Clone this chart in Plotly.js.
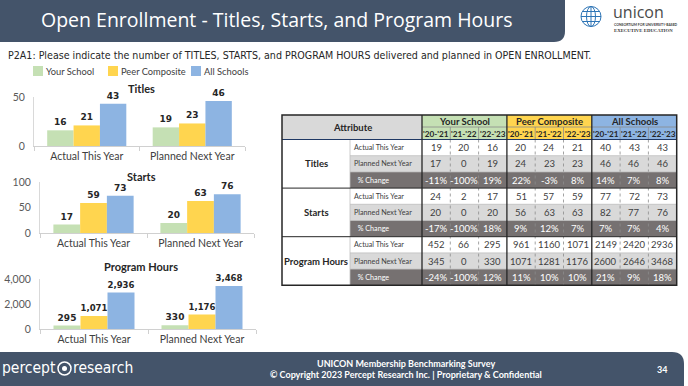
<!DOCTYPE html>
<html><head><meta charset="utf-8">
<script src="https://cdn.plot.ly/plotly-3.0.1.min.js"></script>
<style>html,body{margin:0;padding:0;background:#fff;}#chart{width:688px;height:386px;}</style>
</head><body><div id="chart"></div>
<script>
// ---------- data ----------
const seriesNames = ['Your School', 'Peer Composite', 'All Schools'];
const periods = ['Actual This Year', 'Planned Next Year'];
const years = ["'20-'21", "'21-'22", "'22-'23"];
const metrics = ['Titles', 'Starts', 'Program Hours'];
const rowLabels = ['Actual This Year', 'Planned Next Year', '% Change'];

const titlesActual  = [19, 20, 16, 20, 24, 21, 40, 43, 43];
const titlesPlanned = [17, 0, 19, 24, 23, 23, 46, 46, 46];
const titlesChange  = ['-11%', '-100%', '19%', '22%', '-3%', '8%', '14%', '7%', '8%'];
const startsActual  = [24, 2, 17, 51, 57, 59, 77, 72, 73];
const startsPlanned = [20, 0, 20, 56, 63, 63, 82, 77, 76];
const startsChange  = ['-17%', '-100%', '18%', '9%', '12%', '7%', '7%', '7%', '4%'];
const hoursActual   = [452, 66, 295, 961, 1160, 1071, 2149, 2420, 2936];
const hoursPlanned  = [345, 0, 330, 1071, 1281, 1176, 2600, 2646, 3468];
const hoursChange   = ['-24%', '-100%', '12%', '11%', '10%', '10%', '21%', '9%', '18%'];

const titleText = 'Open Enrollment - Titles, Starts, and Program Hours';
const questionText = 'P2A1: Please indicate the number of TITLES, STARTS, and PROGRAM HOURS delivered and planned in OPEN ENROLLMENT.';
const footerLine1 = 'UNICON Membership Benchmarking Survey';
const footerLine2 = '© Copyright 2023 Percept Research Inc. | Proprietary &amp; Confidential';
const pageNumber = '34';

// ---------- styles / layout constants ----------
const W = 688, H = 386;
const seriesColors = ['#c5e0b4', '#ffd54f', '#8db4e2'];
const navy = '#44546a';
const FONT = 'Lato, "Open Sans", sans-serif';
const X = p => p / W;
const Y = p => 1 - p / H;

const shapes = [], annotations = [];
function rect(x0, y0, x1, y1, fill, line) {
  shapes.push({type: 'rect', xref: 'paper', yref: 'paper', x0: X(x0), x1: X(x1), y0: Y(y1), y1: Y(y0),
    fillcolor: fill, line: line || {width: 0}});
}
function seg(x0, y0, x1, y1, color, width, dash) {
  shapes.push({type: 'line', xref: 'paper', yref: 'paper', x0: X(x0), x1: X(x1), y0: Y(y0), y1: Y(y1),
    line: {color: color, width: width, dash: dash || 'solid'}});
}
function txt(text, x, y, o) {
  o = o || {};
  annotations.push({xref: 'paper', yref: 'paper', x: X(x), y: Y(y), text: text, showarrow: false,
    xanchor: o.anchor || 'center', yanchor: 'middle', borderpad: 0,
    font: {family: o.family || FONT, size: o.size || 10, color: o.color || '#404040', weight: o.bold ? 'bold' : 'normal'}});
}

// ---------- header ----------
shapes.push({type: 'path', xref: 'paper', yref: 'paper', fillcolor: navy, line: {width: 0},
  path: `M 0,${Y(0)} L ${X(565)},${Y(0)} L ${X(565)},${Y(31)} Q ${X(565)},${Y(42)} ${X(554)},${Y(42)} L 0,${Y(42)} Z`});
txt(titleText, 277, 20, {size: 19.5, color: '#ffffff', family: '"Open Sans", Lato, sans-serif'});

// unicon logo
const gc = {x: 591, y: 16.5, r: 10};
shapes.push({type: 'circle', xref: 'paper', yref: 'paper', x0: X(gc.x - gc.r), x1: X(gc.x + gc.r), y0: Y(gc.y + gc.r), y1: Y(gc.y - gc.r), line: {color: '#2e75b6', width: 1}});
shapes.push({type: 'circle', xref: 'paper', yref: 'paper', x0: X(gc.x - 4.5), x1: X(gc.x + 4.5), y0: Y(gc.y + gc.r), y1: Y(gc.y - gc.r), line: {color: '#2e75b6', width: 1}});
seg(gc.x, gc.y - gc.r, gc.x, gc.y + gc.r, '#2e75b6', 1);
seg(gc.x - gc.r, gc.y, gc.x + gc.r, gc.y, '#2e75b6', 1);
seg(gc.x - 8.5, gc.y - 5, gc.x + 8.5, gc.y - 5, '#2e75b6', 1);
seg(gc.x - 8.5, gc.y + 5, gc.x + 8.5, gc.y + 5, '#2e75b6', 1);
txt('unicon', 612, 12, {anchor: 'left', size: 16, color: '#4a4a4a', family: '"Open Sans", sans-serif'});
txt('CONSORTIUM FOR UNIVERSITY-BASED', 613, 25, {anchor: 'left', size: 3.4, color: '#3a3a3a', bold: true});
txt('EXECUTIVE EDUCATION', 613, 31, {anchor: 'left', size: 4.8, color: '#3a3a3a', bold: true, family: '"Liberation Serif", serif'});

// question
txt(questionText, 7, 55, {anchor: 'left', size: 10.6, color: '#262626', family: '"Liberation Sans Narrow", "DejaVu Sans Condensed", "Liberation Sans", sans-serif'});

// legend
const legendSwatchX = [33, 108, 191];
seriesNames.forEach((n, i) => {
  rect(legendSwatchX[i], 66, legendSwatchX[i] + 10, 76, seriesColors[i]);
  txt(n, legendSwatchX[i] + 12, 71.5, {anchor: 'left', size: 9.3, color: '#404040'});
});

// ---------- bar charts ----------
const chartData = [
  {name: metrics[0], actual: titlesActual, planned: titlesPlanned, xdom: [34, 245], ydom: [146, 97], range: [0, 50], dtick: 50, titleY: 88},
  {name: metrics[1], actual: startsActual, planned: startsPlanned, xdom: [40, 254], ydom: [233.3, 182], range: [0, 100], dtick: 50, titleY: 176},
  {name: metrics[2], actual: hoursActual, planned: hoursPlanned, xdom: [40, 256], ydom: [329.3, 279.3], range: [0, 4000], dtick: 2000, titleY: 266}
];
const traces = [];
const layout = {
  width: W, height: H, margin: {l: 0, r: 0, t: 0, b: 0},
  paper_bgcolor: '#ffffff', plot_bgcolor: 'rgba(0,0,0,0)',
  showlegend: false, barmode: 'group', bargap: 0.25, bargroupgap: 0,
  font: {family: FONT}
};
chartData.forEach((c, k) => {
  const sfx = k === 0 ? '' : String(k + 1);
  seriesNames.forEach((n, g) => {
    traces.push({
      type: 'bar', name: n, x: periods,
      y: [c.actual[g * 3 + 2], c.planned[g * 3 + 2]],
      xaxis: 'x' + sfx, yaxis: 'y' + sfx,
      marker: {color: seriesColors[g], line: {width: 0}},
      texttemplate: '%{y:,}', textposition: 'outside', cliponaxis: false,
      textfont: {family: '"DejaVu Sans", Verdana, sans-serif', size: 9, color: '#262626', weight: 'bold'},
      showlegend: false, hoverinfo: 'skip'
    });
  });
  layout['xaxis' + sfx] = {
    domain: [X(c.xdom[0]), X(c.xdom[1])], anchor: 'y' + sfx, type: 'category',
    showline: true, linecolor: '#d0d0d0', linewidth: 1, ticks: 'outside', tickson: 'boundaries',
    ticklen: 4, tickcolor: '#d0d0d0', showgrid: false, zeroline: false,
    tickfont: {family: FONT, size: 10.5, color: '#404040'}, fixedrange: true
  };
  layout['yaxis' + sfx] = {
    domain: [Y(c.ydom[0]), Y(c.ydom[1])], anchor: 'x' + sfx, range: c.range, dtick: c.dtick,
    tickformat: ',d', showline: true, linecolor: '#d9d9d9', linewidth: 1, ticks: '', showgrid: false,
    zeroline: false, ticklabelstandoff: 6, tickfont: {family: FONT, size: 10.5, color: '#595959'}, fixedrange: true
  };
  txt(c.name, 141, c.titleY, {size: 11, bold: true, color: '#262626'});
});

// ---------- table ----------
const TX0 = 282, LBLX = 350, TX1 = 422, CW = 28.3, TY0 = 115, TYM = 127, TY1 = 139.5, RH = 16.2;
const TXE = TX1 + 9 * CW;
const TYE = TY1 + 9 * RH;
const tableRows = [
  [titlesActual, titlesPlanned, titlesChange],
  [startsActual, startsPlanned, startsChange],
  [hoursActual, hoursPlanned, hoursChange]
];
const rowFills = ['#ffffff', '#d9d9d9', '#767171'];
const rowText = ['#404040', '#404040', '#ffffff'];

// header fills
rect(TX0, TY0, TX1, TY1, '#d9d9d9');
seriesNames.forEach((n, g) => {
  rect(TX1 + g * 3 * CW, TY0, TX1 + (g + 1) * 3 * CW, TY1, seriesColors[g]);
});
// body fills
metrics.forEach((m, mi) => {
  rect(TX0, TY1 + mi * 3 * RH, LBLX, TY1 + (mi + 1) * 3 * RH, '#ffffff');
  rowLabels.forEach((r, ri) => {
    const y0 = TY1 + (mi * 3 + ri) * RH;
    rect(LBLX, y0, TXE, y0 + RH, rowFills[ri]);
  });
});
// inner lines
for (let i = 1; i < 9; i++) {
  if (i % 3 === 0) continue;
  seg(TX1 + i * CW, TYM, TX1 + i * CW, TY1, '#8c8c8c', 0.8);
  seg(TX1 + i * CW, TY1, TX1 + i * CW, TYE, '#8c8c8c', 0.8, 'dot');
}
seg(TX1, TYM, TXE, TYM, '#8c8c8c', 0.8);
for (let r = 1; r < 9; r++) {
  if (r % 3 === 0) continue;
  seg(LBLX, TY1 + r * RH, TXE, TY1 + r * RH, '#bfbfbf', 0.8);
}
seg(LBLX, TY1, LBLX, TYE, '#bfbfbf', 0.8);
// heavy lines
seg(TX0, TY1, TXE, TY1, '#1f3864', 1.2);
for (let r = 3; r < 9; r += 3) seg(TX0, TY1 + r * RH, TXE, TY1 + r * RH, '#262626', 1);
for (let g = 0; g < 3; g++) seg(TX1 + g * 3 * CW, TY0, TX1 + g * 3 * CW, TYE, '#262626', 1.3);
rect(TX0, TY0, TXE, TYE, 'rgba(0,0,0,0)', {color: '#262626', width: 1.5});

// header text
txt('Attribute', (TX0 + TX1) / 2, (TY0 + TY1) / 2, {size: 9.5, bold: true, color: '#262626'});
seriesNames.forEach((n, g) => {
  txt(n, TX1 + (g * 3 + 1.5) * CW, (TY0 + TYM) / 2 + 0.5, {size: 9.5, bold: true, color: '#262626'});
  years.forEach((yr, j) => {
    txt(yr, TX1 + (g * 3 + j + 0.5) * CW, (TYM + TY1) / 2 + 0.5, {size: 8.2, bold: true, color: '#262626'});
  });
});
// body text
metrics.forEach((m, mi) => {
  txt(m, (TX0 + LBLX) / 2, TY1 + (mi * 3 + 1.5) * RH, {size: 9.5, bold: true, color: '#262626'});
  rowLabels.forEach((r, ri) => {
    const yc = TY1 + (mi * 3 + ri + 0.5) * RH;
    txt((ri === 2 ? '&nbsp;&nbsp;' : '') + r, 353, yc, {anchor: 'left', size: 7.2, color: rowText[ri]});
    tableRows[mi][ri].forEach((v, ci) => {
      txt(String(v), TX1 + (ci + 0.5) * CW, yc, {size: 9.5, color: rowText[ri]});
    });
  });
});

// ---------- footer ----------
shapes.push({type: 'path', xref: 'paper', yref: 'paper', fillcolor: navy, line: {width: 0},
  path: `M 0,${Y(386)} L 0,${Y(352)} L ${X(672)},${Y(352)} Q ${X(684)},${Y(352)} ${X(684)},${Y(364)} L ${X(684)},${Y(386)} Z`});
txt('percept', 57, 368, {anchor: 'right', size: 15.5, color: '#ffffff', family: '"Liberation Sans Narrow", "DejaVu Sans Condensed", sans-serif'});
shapes.push({type: 'circle', xref: 'paper', yref: 'paper', x0: X(58), x1: X(71), y0: Y(375), y1: Y(362), line: {color: '#ffffff', width: 1.5}});
shapes.push({type: 'circle', xref: 'paper', yref: 'paper', x0: X(62), x1: X(67), y0: Y(371), y1: Y(366), fillcolor: '#ffffff', line: {width: 0}});
txt('research', 72, 368, {anchor: 'left', size: 15.5, color: '#ffffff', family: '"Liberation Sans Narrow", "DejaVu Sans Condensed", sans-serif'});
txt(footerLine1, 406, 363.5, {size: 9, bold: true, color: '#ffffff'});
txt(footerLine2, 406, 374.5, {size: 9, bold: true, color: '#ffffff'});
txt(pageNumber, 662, 369, {size: 9, bold: true, color: '#ffffff'});

layout.shapes = shapes;
layout.annotations = annotations;
Plotly.newPlot('chart', traces, layout, {displayModeBar: false, staticPlot: true});
</script>
</body></html>
